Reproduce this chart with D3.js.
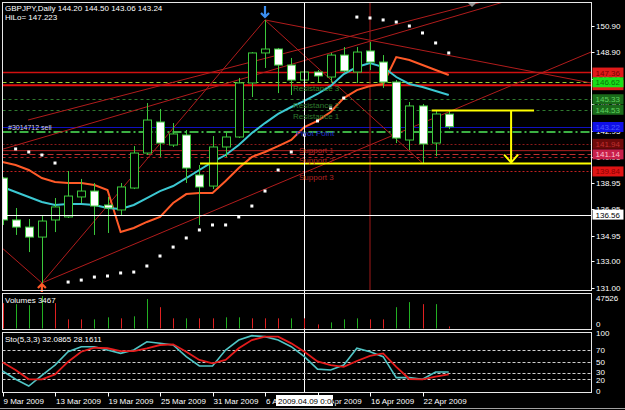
<!DOCTYPE html>
<html>
<head>
<meta charset="utf-8">
<script src="https://cdnjs.cloudflare.com/ajax/libs/d3/7.8.5/d3.min.js"></script>
<style>
  body { margin: 0; background: #000; }
  svg { display: block; }
  text { font-family: "Liberation Sans", Arial, sans-serif; font-size: 8px; }
</style>
</head>
<body>
<svg id="chart"></svg>
<script>
(function() {

  // bars, 9 Mar 2009 .. 24 Apr 2009 (daily)
  const dates = ['9 Mar 2009', '10 Mar 2009', '11 Mar 2009', '12 Mar 2009', '13 Mar 2009',
    '16 Mar 2009', '17 Mar 2009', '18 Mar 2009', '19 Mar 2009', '20 Mar 2009',
    '23 Mar 2009', '24 Mar 2009', '25 Mar 2009', '26 Mar 2009', '27 Mar 2009',
    '30 Mar 2009', '31 Mar 2009', '1 Apr 2009', '2 Apr 2009', '3 Apr 2009',
    '6 Apr 2009', '7 Apr 2009', '8 Apr 2009', '9 Apr 2009', '10 Apr 2009',
    '13 Apr 2009', '14 Apr 2009', '15 Apr 2009', '16 Apr 2009', '17 Apr 2009',
    '20 Apr 2009', '21 Apr 2009', '22 Apr 2009', '23 Apr 2009', '24 Apr 2009'];

  const open  = [139.34, 136.15, 135.61, 134.85, 136.15, 136.38, 137.90, 138.35, 137.29, 136.91,
    138.58, 141.24, 143.60, 141.85, 142.61, 139.57, 138.73, 141.70, 142.46, 146.57,
    148.85, 149.15, 147.93, 146.79, 147.40, 147.02, 148.69, 147.40, 149.00, 148.16,
    146.64, 142.23, 144.82, 142.00, 144.20];
  const high  = [139.42, 137.06, 136.22, 136.45, 137.82, 139.87, 139.27, 138.96, 137.90, 138.96,
    141.77, 145.04, 144.59, 143.52, 142.99, 140.33, 142.53, 142.84, 146.95, 148.92,
    151.36, 149.23, 148.47, 147.93, 147.55, 148.85, 149.30, 149.30, 149.68, 148.69,
    146.79, 145.12, 144.97, 144.51, 144.50];
  const low   = [135.77, 135.01, 133.71, 131.36, 135.23, 136.30, 137.44, 135.01, 135.16, 136.53,
    138.50, 141.09, 140.94, 141.70, 138.96, 135.77, 138.50, 140.94, 142.38, 145.50,
    147.71, 145.80, 145.65, 146.41, 146.64, 146.64, 147.40, 146.57, 147.55, 146.19,
    142.00, 141.47, 140.48, 141.01, 143.06];
  const close = [136.15, 135.61, 134.85, 136.07, 137.14, 137.97, 138.35, 137.21, 137.06, 138.66,
    141.24, 143.75, 142.00, 142.69, 140.10, 138.66, 141.70, 142.46, 146.57, 148.85,
    149.15, 147.93, 146.79, 147.40, 147.10, 148.69, 147.48, 148.92, 148.16, 146.64,
    142.38, 144.82, 141.93, 144.21, 143.24];

  // moving average (cyan) and trailing stop (orange)
  const maLine = [138.66, 138.28, 137.90, 137.52, 137.29, 137.36, 137.36, 137.29, 137.06, 136.98,
    137.29, 137.82, 138.35, 138.73, 139.34, 139.95, 140.56, 141.09, 141.85, 142.76,
    143.52, 144.21, 144.74, 145.20, 145.73, 146.34, 147.25, 147.78, 148.09, 147.78,
    147.02, 146.49, 146.26, 145.96, 145.65];
  const trailStop = [140.56, 140.33, 139.95, 139.34, 139.04, 138.96, 138.96, 138.81, 138.43, 135.23,
    135.54, 136.00, 136.38, 137.44, 138.12, 138.20, 138.20, 139.11, 140.10, 140.94,
    141.32, 141.77, 142.23, 143.22, 143.68, 144.36, 145.42, 146.03, 146.34, 146.49,
    148.54, 148.31, 147.93, 147.55, 147.17];
  // parabolic SAR
  const sar = [null, 141.55, 141.32, 141.09, 140.48, 131.43, 131.58, 131.81, 131.89, 132.12,
    132.19, 132.65, 133.41, 134.09, 134.78, 135.39, 135.77, 135.77, 136.38, 137.21,
    138.35, 139.95, 141.32, 142.61, 143.68, 144.66, 145.42, 151.58, 151.51, 151.36,
    151.20, 150.90, 150.37, 149.61, 148.85];

  const volume = [34946, 33548, 32150, 44730, 34946, 12580, 12580, 12580, 15376, 13978,
    16774, 40537, 29354, 13978, 13978, 13978, 13978, 15376, 15376, 13978,
    13978, 13978, 13978, 13978, 5591, 8387, 12580, 13978, 12580, 12580,
    29354, 36344, 33548, 33548, 2796];
  const volumeUp = [0, 1, 1, 1, 0, 0, 0, 1, 1, 0, 1, 1, 0, 0, 1, 0, 0, 1, 1, 0,
    0, 0, 1, 0, 0, 1, 1, 1, 0, 0, 1, 1, 0, 1, 0];

  const stochK = [33.8, 19.5, 7.9, 26.4, 44.0, 67.0, 75.7, 75.7, 70.0, 64.3,
    70.0, 84.3, 81.5, 78.6, 58.5, 42.4, 42.4, 70.0, 87.2, 94.7,
    93.0, 87.2, 75.7, 58.5, 37.0, 35.5, 44.0, 73.0, 67.0, 58.5,
    22.3, 22.3, 19.5, 32.1, 32.0865];
  const stochD = [48.8, 35.5, 19.5, 19.5, 28.0, 49.8, 67.0, 74.0, 73.0, 68.0,
    68.0, 73.0, 78.6, 79.8, 67.0, 52.8, 47.0, 52.8, 73.0, 87.2,
    93.0, 93.0, 81.5, 67.0, 50.4, 44.0, 41.0, 51.0, 60.0, 64.0,
    41.0, 20.0, 19.5, 24.0, 28.1611];

  const priceTicks = [150.90, 148.90, 146.90, 144.95, 142.95, 140.95, 138.95, 136.95, 134.95, 133.00, 131.00];
  const stochTicks = [100, 70, 50, 30, 20, 0];
  const stochLevels = [70, 50, 30, 20];
  const dateTicks = ['9 Mar 2009', '13 Mar 2009', '19 Mar 2009', '25 Mar 2009', '31 Mar 2009',
    '6 Apr 2009', '10 Apr 2009', '16 Apr 2009', '22 Apr 2009'];

  // pivot levels
  const pivotNames = ['Resistance 3', 'Resistance 2', 'Resistance 1', 'Pivot Point', 'Support 1', 'Support 2', 'Support 3'];
  const pivotPrices = [146.62, 145.33, 144.53, 143.22, 141.94, 141.14, 139.84];
  // other horizontal objects
  const hiLoPrices = [147.36, 146.40];
  const orderPrice = 142.84;
  const supportLinePrices = [141.42, 140.90];
  const targetPrices = [144.47, 140.44];
  const targetBars = [15.05, 32.7, 38.75, 40.5];
  const crossDate = '9 Apr 2009';
  const crossPrice = 136.56;
  const markDate = '16 Apr 2009';
  // trend lines [bar index, price]
  const trendLines = [
    [[-0.2, 134.17], [3, 131.36]],
    [[3, 131.36], [20, 151.36]],
    [[3, 131.36], [44.84, 148.92]],
    [[20, 151.36], [44.84, 146.57]],
    [[20, 151.36], [32, 140.48]],
    [[-0.2, 141.47], [38.7, 152.88]],
    [[1.94, 143.75], [37.14, 152.88]]
  ];

  const width = 625;
  const height = 410;
  const main = { left: 2.5, right: 591.5, top: 2.5, bottom: 290.5 };
  const volBox = { top: 293.5, bottom: 329.5 };
  const stoBox = { top: 332.5, bottom: 392.5 };

  const svg = d3.select('#chart').attr('width', width).attr('height', height);
  svg.append('rect').attr('width', width).attr('height', height).attr('fill', '#000');

  const x = d3.scalePoint().domain(dates).range([2.5, 2.5 + 13.125 * (dates.length - 1)]);
  const xi = d3.scaleLinear().domain([0, dates.length - 1]).range(x.range());
  const y = d3.scaleLinear().domain([131.00, 150.90]).range([287.7, 26]);
  const yv = d3.scaleLinear().domain([0, 47526]).range([328.5, 294]);
  const ys = d3.scaleLinear().domain([0, 100]).range([390.6, 332.6]);

  const defs = svg.append('defs');
  defs.append('clipPath').attr('id', 'clipMain').append('rect')
    .attr('x', main.left).attr('y', main.top)
    .attr('width', main.right - main.left).attr('height', main.bottom - main.top);

  const g = svg.append('g').attr('clip-path', 'url(#clipMain)');

  // pivot lines
  const pivotColor = ['#9acd32', '#2f7a2f', '#2f7a2f', '#1010c0', '#8b1a1a', '#c03030', '#c02020'];
  const pivotDash = ['4,3', '3,3', '3,3', null, '2,2', '6,3', '2,2'];
  pivotPrices.forEach(function(p, i) {
    g.append('line')
      .attr('x1', main.left).attr('x2', main.right)
      .attr('y1', Math.round(y(p)) + 0.5).attr('y2', Math.round(y(p)) + 0.5)
      .attr('stroke', pivotColor[i]).attr('stroke-width', 1)
      .attr('stroke-dasharray', pivotDash[i]);
  });
  // hi/lo lines
  g.append('line').attr('x1', main.left).attr('x2', main.right)
    .attr('y1', y(hiLoPrices[0])).attr('y2', y(hiLoPrices[0]))
    .attr('stroke', '#d01010').attr('stroke-width', 1.5);
  g.append('line').attr('x1', main.left).attr('x2', main.right)
    .attr('y1', y(hiLoPrices[1])).attr('y2', y(hiLoPrices[1]))
    .attr('stroke', '#e01010').attr('stroke-width', 2);
  // order line
  g.append('line').attr('x1', main.left).attr('x2', main.right)
    .attr('y1', y(orderPrice)).attr('y2', y(orderPrice))
    .attr('stroke', '#3cb043').attr('stroke-width', 2).attr('stroke-dasharray', '9,3,2,3');
  supportLinePrices.forEach(function(p, i) {
    g.append('line').attr('x1', main.left).attr('x2', main.right)
      .attr('y1', y(p)).attr('y2', y(p))
      .attr('stroke', '#b02020').attr('stroke-width', 1)
      .attr('stroke-dasharray', i === 0 ? null : '3,3');
  });

  // trend lines
  trendLines.forEach(function(t) {
    g.append('line')
      .attr('x1', xi(t[0][0])).attr('y1', y(t[0][1]))
      .attr('x2', xi(t[1][0])).attr('y2', y(t[1][1]))
      .attr('stroke', '#b01c1c').attr('stroke-width', 1);
  });

  // vertical marker
  g.append('line').attr('x1', x(markDate)).attr('x2', x(markDate))
    .attr('y1', main.top).attr('y2', main.bottom)
    .attr('stroke', '#a01818').attr('stroke-width', 1);

  // indicator lines
  const lineGen = function(arr) {
    return d3.line().defined(function(d) { return d != null; })
      .x(function(d, i) { return xi(i); })
      .y(function(d) { return y(d); })(arr);
  };
  g.append('path').attr('d', lineGen(trailStop))
    .attr('fill', 'none').attr('stroke', '#ff5a28').attr('stroke-width', 2);
  g.append('path').attr('d', lineGen(maLine))
    .attr('fill', 'none').attr('stroke', '#3cc8d2').attr('stroke-width', 2);

  // candles
  const candle = g.selectAll('g.candle').data(dates).enter().append('g').attr('class', 'candle');
  candle.append('line')
    .attr('x1', function(d) { return Math.round(x(d)) + 0.5; })
    .attr('x2', function(d) { return Math.round(x(d)) + 0.5; })
    .attr('y1', function(d, i) { return y(high[i]); })
    .attr('y2', function(d, i) { return y(low[i]); })
    .attr('stroke', '#3cc83c');
  candle.append('rect')
    .attr('x', function(d) { return Math.round(x(d)) - 3.5; })
    .attr('width', 8)
    .attr('y', function(d, i) { return y(Math.max(open[i], close[i])); })
    .attr('height', function(d, i) { return Math.max(1, Math.abs(y(open[i]) - y(close[i]))); })
    .attr('fill', function(d, i) { return close[i] < open[i] ? '#fff' : '#000'; })
    .attr('stroke', '#3cc83c');

  // SAR dots
  g.selectAll('rect.sar').data(sar.map(function(d, i) { return [i, d]; })
      .filter(function(d) { return d[1] != null; }))
    .enter().append('rect').attr('class', 'sar')
    .attr('x', function(d) { return xi(d[0]) - 1.5; })
    .attr('y', function(d) { return y(d[1]) - 1.5; })
    .attr('width', 3).attr('height', 3).attr('fill', '#fff');

  // yellow target lines
  g.append('line').attr('x1', xi(targetBars[0])).attr('x2', main.right)
    .attr('y1', y(targetPrices[1])).attr('y2', y(targetPrices[1]))
    .attr('stroke', '#ffff00').attr('stroke-width', 2);
  g.append('line').attr('x1', xi(targetBars[1])).attr('x2', xi(targetBars[3]))
    .attr('y1', y(targetPrices[0])).attr('y2', y(targetPrices[0]))
    .attr('stroke', '#ffff00').attr('stroke-width', 2);
  const ax = xi(targetBars[2]);
  const ay = y(targetPrices[1]) - 1;
  g.append('line').attr('x1', ax).attr('x2', ax)
    .attr('y1', y(targetPrices[0])).attr('y2', ay)
    .attr('stroke', '#ffff00').attr('stroke-width', 2);
  g.append('path')
    .attr('d', 'M' + (ax - 7) + ',' + (ay - 8) + 'L' + ax + ',' + ay + 'L' + (ax + 7) + ',' + (ay - 8))
    .attr('fill', 'none').attr('stroke', '#ffff00').attr('stroke-width', 2);

  // high / low arrows
  const hx = x('6 Apr 2009');
  const hy = y(high[20]) - 3;
  svg.append('path')
    .attr('d', 'M' + hx + ',' + (hy - 11) + 'V' + hy + 'M' + (hx - 4) + ',' + (hy - 4) + 'L' + hx + ',' + hy + 'L' + (hx + 4) + ',' + (hy - 4))
    .attr('fill', 'none').attr('stroke', '#3a8ef0').attr('stroke-width', 2.2);
  const lx = x('12 Mar 2009');
  const ly = y(low[3]) + 1;
  svg.append('path')
    .attr('d', 'M' + lx + ',' + (ly + 8) + 'V' + ly + 'M' + (lx - 4) + ',' + (ly + 4) + 'L' + lx + ',' + ly + 'L' + (lx + 4) + ',' + (ly + 4))
    .attr('fill', 'none').attr('stroke', '#ff5a28').attr('stroke-width', 2.2);

  // crosshair
  svg.append('line').attr('x1', main.left).attr('x2', main.right)
    .attr('y1', Math.round(y(crossPrice)) + 0.5).attr('y2', Math.round(y(crossPrice)) + 0.5)
    .attr('stroke', '#fff');
  svg.append('line').attr('x1', Math.round(x(crossDate)) + 0.5).attr('x2', Math.round(x(crossDate)) + 0.5)
    .attr('y1', main.top).attr('y2', stoBox.bottom)
    .attr('stroke', '#fff');

  // texts on the chart
  svg.append('text').attr('x', 5).attr('y', 11).attr('fill', '#fff')
    .text('GBPJPY,Daily  ' + open[34].toFixed(2) + ' ' + high[34].toFixed(2) + ' ' + low[34].toFixed(2) + ' ' + close[34].toFixed(2));
  svg.append('text').attr('x', 5).attr('y', 20).attr('fill', '#fff').text('HiLo= 147.223');
  svg.append('text').attr('x', 8).attr('y', y(pivotPrices[3]) + 3).attr('fill', '#d0d0e0')
    .style('font-size', '7px').text('#3014712 sell');

  const pivotTextColor = ['#2e8b2e', '#2e7a2e', '#2e7a2e', '#1f2fd0', '#b22222', '#b22222', '#b22222'];
  pivotNames.forEach(function(n, i) {
    svg.append('text').attr('x', i < 3 ? 293 : (i === 3 ? 296 : 299))
      .attr('y', y(pivotPrices[i]) + 9).attr('fill', pivotTextColor[i]).text(n);
  });

  // panel frames
  [[main.top, main.bottom], [volBox.top, volBox.bottom], [stoBox.top, stoBox.bottom]].forEach(function(b) {
    svg.append('rect').attr('x', main.left).attr('y', b[0])
      .attr('width', main.right - main.left).attr('height', b[1] - b[0])
      .attr('fill', 'none').attr('stroke', '#e8e8e8');
  });

  // price axis
  const axisG = svg.append('g');
  priceTicks.forEach(function(p) {
    axisG.append('line').attr('x1', main.right).attr('x2', main.right + 3)
      .attr('y1', Math.round(y(p)) + 0.5).attr('y2', Math.round(y(p)) + 0.5).attr('stroke', '#fff');
    axisG.append('text').attr('x', 596).attr('y', y(p) + 3).attr('fill', '#fff').text(p.toFixed(2));
  });

  // price labels
  const tagPrices = [147.36, 146.40, 146.62, 145.33, 144.53, 143.22, 141.94, 141.14, 139.84, crossPrice];
  const tagBg = ['#e01a1a', '#e01a1a', '#19e019', '#1a6a1a', '#1a6a1a', '#1010e8', '#6e0a0a', '#c8204a', '#e01414', '#fff'];
  const tagFg = ['#7a0000', '#7a0000', '#0a700a', '#60d060', '#60d060', '#4b5cff', '#c03030', '#ffc0d0', '#8a0000', '#000'];
  tagPrices.forEach(function(p, i) {
    axisG.append('rect').attr('x', main.right + 1).attr('y', y(p) - 5)
      .attr('width', 31).attr('height', 10).attr('fill', tagBg[i]);
    if (i !== 1) {
      axisG.append('text').attr('x', main.right + 4).attr('y', y(p) + 3)
        .attr('fill', tagFg[i]).text(p.toFixed(2));
    }
  });
  // chart shift marker
  svg.append('path').attr('d', 'M468,3L476,3L472,7Z').attr('fill', '#909090');

  // volumes
  svg.append('g').selectAll('line').data(volume).enter().append('line')
    .attr('x1', function(d, i) { return Math.round(xi(i)) + 0.5; })
    .attr('x2', function(d, i) { return Math.round(xi(i)) + 0.5; })
    .attr('y1', yv(0)).attr('y2', function(d) { return yv(d); })
    .attr('stroke', function(d, i) { return volumeUp[i] ? '#22b022' : '#e02020'; });
  svg.append('text').attr('x', 5).attr('y', 303).attr('fill', '#fff').text('Volumes 3467');
  svg.append('text').attr('x', 596).attr('y', 301).attr('fill', '#fff').text('47526');
  svg.append('text').attr('x', 596).attr('y', 327).attr('fill', '#fff').text('0');

  // stochastic
  stochLevels.forEach(function(v) {
    svg.append('line').attr('x1', main.left).attr('x2', main.right)
      .attr('y1', Math.round(ys(v)) + 0.5).attr('y2', Math.round(ys(v)) + 0.5)
      .attr('stroke', '#d0d0d0').attr('stroke-dasharray', '3,2');
  });
  const sLine = d3.line().x(function(d, i) { return xi(i); }).y(function(d) { return ys(d); });
  svg.append('path').attr('d', sLine(stochK)).attr('fill', 'none')
    .attr('stroke', '#50c4c4').attr('stroke-width', 1.6);
  svg.append('path').attr('d', sLine(stochD)).attr('fill', 'none')
    .attr('stroke', '#e41c1c').attr('stroke-width', 1.8);
  svg.append('text').attr('x', 5).attr('y', 342).attr('fill', '#fff').text('Sto(5,3,3) 32.0865 28.1611');
  stochTicks.forEach(function(v) {
    svg.append('text').attr('x', 596).attr('y', ys(v) + 3 + (v === 30 ? -1 : 0) + (v === 20 ? 1 : 0))
      .attr('fill', '#fff').text(v);
  });

  // date axis
  dateTicks.forEach(function(d) {
    svg.append('line').attr('x1', Math.round(x(d)) + 0.5).attr('x2', Math.round(x(d)) + 0.5)
      .attr('y1', stoBox.bottom).attr('y2', stoBox.bottom + 4).attr('stroke', '#fff');
    svg.append('text').attr('x', x(d) + 1).attr('y', 404).attr('fill', '#fff').text(d);
  });
  svg.append('rect').attr('x', 276).attr('y', 395).attr('width', 57).attr('height', 11).attr('fill', '#fff');
  svg.append('text').attr('x', 278).attr('y', 404).attr('fill', '#000').text('2009.04.09 0:00');
  svg.append('line').attr('x1', 0).attr('x2', width).attr('y1', 408.5).attr('y2', 408.5).attr('stroke', '#a0a0a0');
})();
</script>
</body>
</html>
